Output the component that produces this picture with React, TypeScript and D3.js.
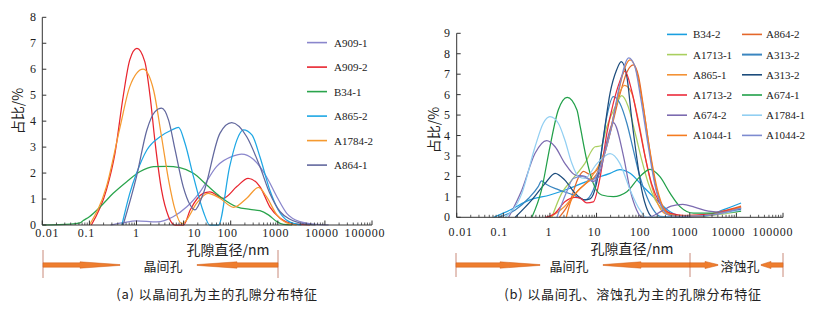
import React from "react";
import * as d3 from "d3";

type Pt = [number, number];

// ---------- Panel (a): pore diameter (nm) vs proportion (%) ----------
const A909_1: Pt[] = [[0.28,0],[0.5,0.08],[1,0.16],[2.7,0.12],[6,0.32],[11.7,0.7],[22.4,1.28],[50,2.25],[115,2.66],[170,2.73],[302,2.53],[575,1.86],[955,1.09],[1549,0.45],[2951,0.13],[6761,0.02],[12000,0]];
const A909_2: Pt[] = [[0.11,0],[0.23,1.35],[0.35,2.77],[0.52,4.94],[0.72,6.36],[1.02,6.8],[1.5,6.29],[1.95,4.94],[2.45,3.27],[3.4,1.35],[4.8,0.32],[6.6,0],[10,0],[13.8,0.58],[26,1.22],[36,1.28],[69,1.03],[135,1.48],[234,1.8],[417,1.48],[676,0.7],[1122,0.26],[2138,0.05],[4786,0]];
const B34_1: Pt[] = [[0.01,0],[0.04,0.03],[0.063,0.08],[0.074,0.17],[0.1,0.32],[0.17,0.7],[0.32,1.22],[0.62,1.67],[1.17,2.05],[2.3,2.25],[4.4,2.26],[8.3,2.21],[16.2,1.99],[31,1.54],[59,1.1],[135,0.7],[257,0.6],[417,0.55],[631,0.39],[955,0.13],[1318,0.02],[2000,0]];
const A865_2: Pt[] = [[0.49,0],[0.72,1.22],[1,1.99],[1.66,2.89],[3.16,3.4],[5.6,3.66],[7.8,3.76],[10.7,3.15],[16.2,1.86],[26.3,0.51],[36,0],[55,0],[95,2.25],[135,3.27],[186,3.66],[282,3.47],[417,2.63],[676,1.35],[1023,0.58],[1660,0.15],[3162,0]];
const A1784_2: Pt[] = [[0.1,0],[0.23,1.48],[0.45,3.79],[0.72,5.33],[1.38,6.0],[2.3,5.2],[3.4,3.4],[4.8,1.73],[6.6,0.58],[9.1,0.05],[10.7,0.12],[19,0.84],[33,1.22],[59,1.03],[115,0.68],[219,1.03],[389,1.45],[575,1.09],[955,0.39],[1549,0.08],[2512,0]];
const A864_1: Pt[] = [[0.52,0],[1,1.86],[1.66,3.66],[2.45,4.36],[3.4,4.5],[4.8,4.04],[6.6,2.89],[9.8,1.48],[13.8,0.77],[17.4,0.58],[26.3,1.22],[59,3.53],[105,3.94],[219,3.4],[417,2.25],[676,1.22],[1122,0.51],[1820,0.22],[3467,0.05],[6310,0]];

// ---------- Panel (b) ----------
const B34_2: Pt[] = [[0.062,0],[0.14,0.36],[0.37,0.85],[1,1.09],[2.7,1.42],[7.2,1.82],[19.5,2.15],[31.6,2.33],[52.5,2.15],[100,1.5],[195,0.85],[380,0.27],[724,0.05],[2000,0.05],[5000,0.35],[12600,0.7]];
const A864_2: Pt[] = [[1.58,0],[2.82,0.9],[4,1.9],[5.25,2.25],[7.1,2.1],[10,2.3],[14.1,3.0],[20,4.2],[31.6,6.0],[44.7,7.1],[61.7,7.45],[79.4,6.9],[100,5.5],[126,3.9],[158,2.4],[200,1.2],[282,0.4],[398,0.15],[631,0.08],[2000,0.12],[5000,0.3],[12600,0.55]];
const A1713_1: Pt[] = [[1.1,0],[1.78,1.17],[2.95,1.82],[5.62,2.64],[9.3,3.45],[12.6,3.5],[16.6,4.43],[25.1,5.41],[34.7,5.95],[47.9,5.41],[67.6,4.11],[93.3,2.8],[129,1.66],[182,0.85],[269,0.36],[447,0.1],[1000,0.05],[3000,0.1],[12600,0.3]];
const A313_2a: Pt[] = [[0.078,0],[0.18,0.36],[0.35,0.93],[0.56,1.5],[0.66,1.78],[0.85,1.6],[1.51,1.35],[3.16,1.1],[5.62,0.85],[8.5,1.34],[12,2.8],[16.6,4.92],[22.9,5.9],[31.6,5.58],[44.7,4.6],[61.7,3.29],[85.1,1.99],[120,1.0],[166,0.36],[229,0.05],[500,0.02],[2000,0.1],[12600,0.45]];
const A865_1: Pt[] = [[1,0],[2,0.5],[4,1.3],[7.94,2.0],[12.6,2.8],[20,4.3],[28.2,5.8],[39.8,6.45],[56.2,6.1],[79.4,4.7],[112,2.9],[158,1.4],[224,0.5],[316,0.15],[631,0.05],[2000,0.1],[12600,0.35]];
const A313_2b: Pt[] = [[0.18,0],[0.41,0.85],[0.79,1.66],[1.29,2.15],[2.09,1.82],[3.47,1.17],[5.62,0.85],[7.24,0.9],[10,1.66],[14.1,3.94],[19.5,6.07],[26.9,7.2],[33.9,7.61],[44.7,6.88],[56.2,4.92],[72.4,2.97],[93.3,1.34],[123,0.36],[166,0],[600,0.02],[2000,0.08],[12600,0.4]];
const A1713_2: Pt[] = [[0.79,0],[1.29,0.2],[2.09,0.76],[3.47,0.98],[4.5,0.93],[6.17,0.7],[8.5,0.75],[12,1.99],[16.6,4.11],[22.9,5.58],[31,6.6],[40.7,7.15],[56.2,6.23],[79.4,4.6],[110,2.97],[151,1.66],[229,0.68],[380,0.2],[800,0.08],[2500,0.15],[12600,0.5]];
const A674_1: Pt[] = [[0.41,0],[0.66,1.34],[1,3.45],[1.51,5.25],[2.35,5.87],[3.8,5.25],[4.47,4.43],[6.17,2.8],[8.5,1.66],[12.9,1.09],[22.9,1.01],[44.7,1.25],[85,1.99],[141,2.35],[229,1.99],[380,1.17],[617,0.52],[1202,0.2],[2754,0.2],[12600,0.3]];
const A674_2: Pt[] = [[0.13,0],[0.25,1.34],[0.48,3.13],[0.85,3.75],[1.29,3.45],[2.09,2.64],[3.47,2.07],[5.62,2.0],[8.5,1.75],[12.6,2.4],[17,3.8],[22.9,4.63],[38,2.97],[52.5,1.34],[72.4,0.36],[93.3,0],[126,0],[251,0.3],[398,0.55],[708,0.63],[1259,0.5],[2512,0.3],[5012,0.25],[12600,0.45]];
const A1784_1: Pt[] = [[0.11,0],[0.25,1.17],[0.48,3.45],[0.72,4.6],[1,4.92],[1.51,4.6],[2.09,3.78],[2.95,2.64],[4.07,2.0],[5.62,1.9],[10,2.6],[19.5,3.12],[31.6,2.64],[52.5,1.34],[85,0.36],[120,0],[400,0.02],[2000,0.08],[12600,0.35]];
const A1044_1: Pt[] = [[2.24,0],[2.82,0.8],[4,1.3],[6.3,1.7],[10,2.1],[15.8,3.3],[25.1,5.3],[35.5,6.9],[52.5,7.7],[70.8,7.2],[100,5.4],[141,3.2],[200,1.4],[282,0.4],[398,0.1],[1000,0.05],[3000,0.12],[12600,0.5]];
const A1044_2: Pt[] = [[1.41,0],[2.24,1.2],[3.16,1.9],[5,2.0],[7.94,1.8],[12.6,2.6],[20,4.2],[31.6,6.5],[49,7.8],[66,7.4],[89,5.8],[126,3.6],[178,1.6],[251,0.5],[355,0.1],[631,0.05],[2500,0.1],[12600,0.45]];

const xTickValues = [0.01, 0.1, 1, 10, 100, 1000, 10000, 100000];
const xTickLabels = ["0.01", "0.1", "1", "10", "100", "1000", "10000", "100000"];
const yTicksA = [0, 1, 2, 3, 4, 5, 6, 7, 8];
const yTicksB = [0, 1, 2, 3, 4, 5, 6, 7, 8, 9];

type Series = { name: string; color: string; data: Pt[]; lw?: number };

const seriesA: Series[] = [
  { name: "A909-1", color: "#8a86cc", data: A909_1 },
  { name: "A909-2", color: "#e8242e", data: A909_2 },
  { name: "B34-1", color: "#2aa44c", data: B34_1 },
  { name: "A865-2", color: "#1ea7e4", data: A865_2 },
  { name: "A1784-2", color: "#f59a30", data: A1784_2 },
  { name: "A864-1", color: "#62689e", data: A864_1 },
];

const seriesB: Series[] = [
  { name: "B34-2", color: "#1a9fe0", data: B34_2 },
  { name: "A864-2", color: "#e4672a", data: A864_2 },
  { name: "A1713-1", color: "#a9cf5f", data: A1713_1 },
  { name: "A313-2", color: "#3a86c0", data: A313_2a, lw: 2 },
  { name: "A865-1", color: "#f39236", data: A865_1 },
  { name: "A313-2", color: "#1c4c7c", data: A313_2b },
  { name: "A1713-2", color: "#ec2b3b", data: A1713_2 },
  { name: "A674-1", color: "#21a049", data: A674_1 },
  { name: "A674-2", color: "#7c6bb0", data: A674_2 },
  { name: "A1784-1", color: "#92cff2", data: A1784_1 },
  { name: "A1044-1", color: "#f47b20", data: A1044_1 },
  { name: "A1044-2", color: "#7d8bd0", data: A1044_2 },
];

const NUM_FONT = "'Liberation Serif', 'Times New Roman', serif";
const CJK_FONT = "'Noto Sans CJK SC', 'Noto Sans', sans-serif";
const AXIS = "#333";

function minorTicks(): number[] {
  const out: number[] = [];
  for (let e = -2; e < 5; e++) for (let k = 2; k < 10; k++) out.push(k * Math.pow(10, e));
  return out;
}

function Panel(props: {
  x: d3.ScaleLogarithmic<number, number>;
  y: d3.ScaleLinear<number, number>;
  yTicks: number[];
  series: Series[];
  labelDx: number[];
  labelY: number;
  yLabelX: number;
  title: { x: number; y: number };
  ytitle: { x: number; y: number };
}) {
  const { x, y, yTicks, series, labelDx, labelY, yLabelX, title, ytitle } = props;
  const [x0, x1] = x.range();
  const y0 = y(0);
  const yTop = y(yTicks[yTicks.length - 1]);
  const line = d3
    .line<Pt>()
    .x((d) => x(d[0]))
    .y((d) => y(d[1]))
    .curve(d3.curveMonotoneX);
  return (
    <g>
      {series.map((s, i) => (
        <path key={i} d={line(s.data) || ""} fill="none" stroke={s.color} strokeWidth={1.25} />
      ))}
      <line x1={x0} x2={x0} y1={yTop} y2={y0} stroke={AXIS} strokeWidth={1} />
      <line x1={x0} x2={x1} y1={y0} y2={y0} stroke={AXIS} strokeWidth={1} />
      {yTicks.map((t) => (
        <g key={"y" + t}>
          <line x1={x0} x2={x0 + 4} y1={y(t)} y2={y(t)} stroke={AXIS} />
          <text x={yLabelX} y={y(t)} textAnchor="end" dominantBaseline="central" fontFamily={NUM_FONT} fontSize={12} fill="#222">
            {t}
          </text>
        </g>
      ))}
      {xTickValues.map((t) => (
        <line key={"xm" + t} x1={x(t)} x2={x(t)} y1={y0} y2={y0 - 4.5} stroke={AXIS} />
      ))}
      {minorTicks().map((t) => (
        <line key={"xn" + t} x1={x(t)} x2={x(t)} y1={y0} y2={y0 - 2.5} stroke={AXIS} strokeWidth={0.8} />
      ))}
      {xTickValues.map((t, i) => (
        <text key={"xl" + t} x={x(t) + labelDx[i]} y={labelY} textAnchor="middle" dominantBaseline="central" fontFamily={NUM_FONT} fontSize={12} letterSpacing={0.8} fill="#222">
          {xTickLabels[i]}
        </text>
      ))}
      <text x={title.x} y={title.y} textAnchor="middle" dominantBaseline="central" fontFamily={CJK_FONT} fontSize={14} fill="#222">
        孔隙直径/nm
      </text>
      <text
        transform={`translate(${ytitle.x},${ytitle.y}) rotate(-90)`}
        textAnchor="middle"
        dominantBaseline="central"
        fontFamily={CJK_FONT}
        fontSize={14}
        fill="#222"
      >
        占比/%
      </text>
    </g>
  );
}

function Legend(props: { series: Series[]; cols: { lx: number; tx: number }[]; y0: number; dy: number }) {
  const { series, cols, y0, dy } = props;
  const ncol = cols.length;
  return (
    <g>
      {series.map((s, i) => {
        const c = cols[i % ncol];
        const r = Math.floor(i / ncol);
        const yy = y0 + r * dy;
        return (
          <g key={i}>
            <line x1={c.lx} x2={c.lx + 20} y1={yy} y2={yy} stroke={s.color} strokeWidth={s.lw ?? 1.6} />
            <text x={c.tx} y={yy} dominantBaseline="central" fontFamily={NUM_FONT} fontSize={11} fill="#222">
              {s.name}
            </text>
          </g>
        );
      })}
    </g>
  );
}

// arrow whose head points to xEnd
function Arrow(props: { xStart: number; xEnd: number; y: number; head: number; hh: number }) {
  const { xStart, xEnd, y, head, hh } = props;
  const dir = xEnd > xStart ? 1 : -1;
  const xb = xEnd - dir * head;
  const bar = 2.2;
  const pts = [
    [xStart, y - bar],
    [xb, y - bar],
    [xb, y - hh],
    [xEnd, y - 0.4],
    [xEnd, y + 0.4],
    [xb, y + hh],
    [xb, y + bar],
    [xStart, y + bar],
  ];
  return <polygon points={pts.map((p) => p.join(",")).join(" ")} fill="#ee7d2e" stroke="#d0601e" strokeWidth={0.5} />;
}

function VBar({ x, y1, y2 }: { x: number; y1: number; y2: number }) {
  return <line x1={x} x2={x} y1={y1} y2={y2} stroke="#c98a7a" strokeWidth={1} />;
}

export default function App() {
  const xA = d3.scaleLog().domain([0.01, 100000]).range([42.3, 372]);
  const yA = d3.scaleLinear().domain([0, 8]).range([225, 17.3]);
  const xB = d3.scaleLog().domain([0.01, 100000]).range([456.7, 783]);
  const yB = d3.scaleLinear().domain([0, 9]).range([217.3, 33.3]);

  return (
    <div style={{ position: "absolute", left: 0, top: 0, width: 833, height: 311, background: "#fff" }}>
      <svg width={833} height={311} style={{ display: "block" }}>
        <rect width={833} height={311} fill="#fff" />
        <Panel
          x={xA}
          y={yA}
          yTicks={yTicksA}
          series={seriesA}
          labelDx={[5, -3, 0, 11, -3, -2, -3, -7]}
          labelY={232.5}
          yLabelX={36}
          title={{ x: 228, y: 249 }}
          ytitle={{ x: 17, y: 111 }}
        />
        <Legend series={seriesA} cols={[{ lx: 307, tx: 334 }]} y0={42.6} dy={24.5} />

        <Panel
          x={xB}
          y={yB}
          yTicks={yTicksB}
          series={seriesB}
          labelDx={[4, -4, -1, -2, -3, -5, -8, -10]}
          labelY={231.5}
          yLabelX={450}
          title={{ x: 632, y: 248 }}
          ytitle={{ x: 433, y: 130 }}
        />
        <Legend series={seriesB} cols={[{ lx: 667, tx: 693 }, { lx: 742, tx: 766 }]} y0={34.4} dy={20.2} />

        {/* (a) bottom annotation */}
        <VBar x={43} y1={250} y2={278} />
        <VBar x={278} y1={250} y2={278} />
        <Arrow xStart={43} xEnd={120} y={265} head={40} hh={3.2} />
        <Arrow xStart={278} xEnd={197} y={265} head={40} hh={3.2} />
        <text x={163} y={265} textAnchor="middle" dominantBaseline="central" fontFamily={CJK_FONT} fontSize={13} fill="#222">
          晶间孔
        </text>
        <text x={217} y={293} textAnchor="middle" dominantBaseline="central" fontFamily={CJK_FONT} fontSize={13} letterSpacing={0.8} fill="#222">
          (a) 以晶间孔为主的孔隙分布特征
        </text>

        {/* (b) bottom annotation */}
        <VBar x={456} y1={253} y2={277} />
        <VBar x={690} y1={253} y2={277} />
        <VBar x={783} y1={253} y2={277} />
        <Arrow xStart={456} xEnd={540} y={265} head={40} hh={3.2} />
        <Arrow xStart={690} xEnd={603} y={265} head={38} hh={3.2} />
        <Arrow xStart={690} xEnd={718} y={265} head={13} hh={3.6} />
        <Arrow xStart={783} xEnd={761} y={265} head={10} hh={3.6} />
        <text x={569} y={265} textAnchor="middle" dominantBaseline="central" fontFamily={CJK_FONT} fontSize={13} fill="#222">
          晶间孔
        </text>
        <text x={740} y={265} textAnchor="middle" dominantBaseline="central" fontFamily={CJK_FONT} fontSize={13} fill="#222">
          溶蚀孔
        </text>
        <text x={633} y={293} textAnchor="middle" dominantBaseline="central" fontFamily={CJK_FONT} fontSize={13} letterSpacing={0.8} fill="#222">
          (b) 以晶间孔、溶蚀孔为主的孔隙分布特征
        </text>
      </svg>
    </div>
  );
}
